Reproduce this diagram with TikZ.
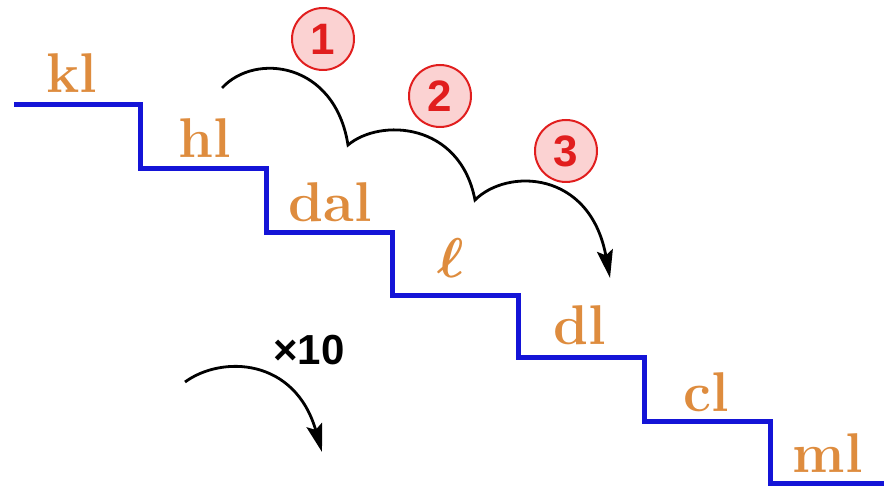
\RequirePackage{fix-cm}
\documentclass[tikz,border=0pt]{standalone}
\usepackage{amsmath}
\usepackage{bm}
\usepackage{fontspec}
\newfontfamily\numfont{Liberation Sans}
\usetikzlibrary{arrows.meta,positioning}

\definecolor{stairblue}{RGB}{20,20,215}
\definecolor{steporange}{RGB}{222,140,62}
\definecolor{hopred}{RGB}{225,30,30}
\definecolor{hopfill}{RGB}{251,210,210}

\begin{document}
\begin{tikzpicture}[x=1pt, y=-1pt]
    \tikzset{
        lbl/.style      =   { text=steporange
                            , font=\fontsize{56}{60}\selectfont\bfseries
                            , anchor=base
                            , inner sep=0pt
        }
        , num/.style    =   { circle
                            , draw=hopred
                            , fill=hopfill
                            , line width=2pt
                            , minimum size=62pt
                            , inner sep=0pt
                            , text=hopred
                            , font=\numfont\fontsize{44}{48}\selectfont\bfseries
        }
        , stair/.style  =   { stairblue
                            , line width=5pt
        }
        , hop/.style    =   { line width=2.8pt
                            , -{Stealth[length=28pt,width=16pt,inset=5pt]}
        }
    }
    \useasboundingbox (0,0) rectangle (884,486);

    % the staircase
    \draw[stair] (14,105) -- (140,105) -- (140,169) -- (266,169) -- (266,233)
        -- (392,233) -- (392,296) -- (518,296) -- (518,358) -- (644,358)
        -- (644,421) -- (770,421) -- (770,483) -- (884,483);

    % units on the steps
    \node(kl)[lbl]  at (72,93)   {kl};
    \node(hl)[lbl]  at (205,158) {hl};
    \node(dal)[lbl] at (330,222) {dal};
    \node(l)[lbl]   at (451,278) {$\bm{\ell}$};
    \node(dl)[lbl]  at (580,345) {dl};
    \node(cl)[lbl]  at (706,411) {cl};
    \node(ml)[lbl]  at (828,472) {ml};

    % three hops down
    \coordinate(h0) at (222,88);
    \coordinate(h1) at (348,145);
    \coordinate(h2) at (475,200);
    \coordinate(h3) at (610,278);
    \draw[hop] (h0) .. controls (255,52) and (335,62) .. (h1)
                    .. controls (380,118) and (460,122) .. (h2)
                    .. controls (507,168) and (590,170) .. (h3);

    \node(n1)[num] at (323,39)  {1};
    \node(n2)[num] at (440,96)  {2};
    \node(n3)[num] at (566,151) {3};

    % times ten
    \node(x10)[font=\numfont\fontsize{42}{46}\selectfont\bfseries, inner sep=0pt]
        at (309,350) {×10};
    \coordinate(t0) at (185,382);
    \coordinate(t1) at (322,452);
    \draw[hop] (t0) .. controls (222,355) and (295,358) .. (t1);
\end{tikzpicture}
\end{document}
